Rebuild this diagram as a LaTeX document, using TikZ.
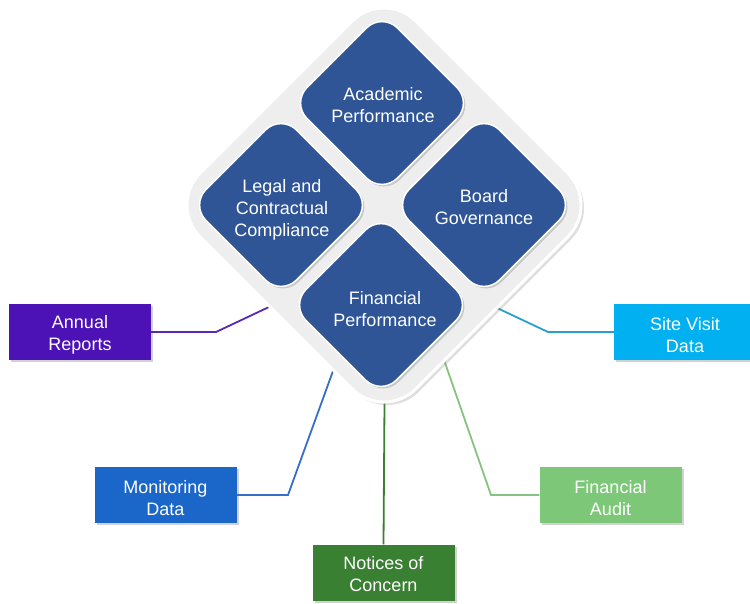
\documentclass[tikz,border=0pt]{standalone}
\usepackage{fontspec}
\setmainfont{Liberation Sans}
\usetikzlibrary{shadows}
\definecolor{dblue}{RGB}{47,85,151}
\definecolor{lgrey}{RGB}{238,238,238}
\definecolor{cpurple}{RGB}{76,18,181}
\definecolor{csky}{RGB}{0,176,240}
\definecolor{cblue}{RGB}{26,102,201}
\definecolor{cdgreen}{RGB}{58,128,50}
\definecolor{clgreen}{RGB}{125,200,120}
\definecolor{lpurple}{RGB}{88,40,185}
\definecolor{lsky}{RGB}{40,160,205}
\definecolor{lblue}{RGB}{55,110,200}
\definecolor{ldgreen}{RGB}{58,128,50}
\definecolor{llgreen}{RGB}{135,195,128}
\begin{document}
\begin{tikzpicture}[x=1pt,y=-1pt,
  outer/.style={rotate=45, minimum size=305pt, inner sep=0pt, rounded corners=45pt,
    fill=lgrey, draw=white, line width=3pt,
    drop shadow={shadow xshift=3pt, shadow yshift=-3pt, opacity=0.25}},
  tile/.style={rotate=45, minimum size=128pt, inner sep=0pt, rounded corners=22pt,
    fill=dblue, draw=white, line width=1.5pt,
    drop shadow={shadow xshift=2pt, shadow yshift=-2pt, opacity=0.35}},
  tiletext/.style={text=white, align=center, font=\fontsize{18}{22}\selectfont},
  box/.style={minimum width=142pt, minimum height=56pt, inner sep=0pt,
    drop shadow={shadow xshift=2pt, shadow yshift=-2pt, opacity=0.35}},
  link/.style={line width=1.8pt}]
\useasboundingbox (0,0) rectangle (750,603);
\fill[white] (0,0) rectangle (750,603);

% side boxes
\node[box, fill=cpurple] (annual) at (80,332) {};
\node[box, fill=csky] (site) at (685,332) {};
\node[box, fill=cblue] (monit) at (165.5,495) {};
\node[box, fill=clgreen] (audit) at (610.5,495) {};
\node[box, fill=cdgreen] (notices) at (383.5,572.5) {};
\node[tiletext] (annualtext) at (80,335) {Annual\\Reports};
\node[tiletext] (sitetext) at (685,335) {Site Visit\\Data};
\node[tiletext] (monittext) at (165.5,498) {Monitoring\\Data};
\node[tiletext] (audittext) at (610.5,498) {Financial\\Audit};
\node[tiletext] (noticestext) at (383.5,574.5) {Notices of\\Concern};

% connector points
\coordinate (jA) at (216,332);
\coordinate (eA) at (269,307);
\coordinate (jS) at (548,332);
\coordinate (eS) at (495,307);
\coordinate (jM) at (288,495);
\coordinate (eM) at (333,371);
\coordinate (jF) at (491,495);
\coordinate (eF) at (443,357);
\coordinate (eN) at (384.5,403);

\draw[link, lpurple] (annual.east) -- (jA) -- (eA);
\draw[link, lsky] (site.west) -- (jS) -- (eS);
\draw[link, lblue] (monit.east) -- (jM) -- (eM);
\draw[link, llgreen] (audit.west) -- (jF) -- (eF);
\draw[link, ldgreen] (notices.north) -- (eN);

% central diamond
\node[outer] (frame) at (384,205) {};
\node[tile] (acadshape) at (382,103) {};
\node[tile] (legalshape) at (281,205) {};
\node[tile] (boardshape) at (484,205) {};
\node[tile] (finshape) at (381,305) {};

\node[tiletext] (acad) at (383,105) {Academic\\Performance};
\node[tiletext] (legal) at (282,210) {Legal and\\Contractual\\Compliance};
\node[tiletext] (board) at (484,207) {Board\\Governance};
\node[tiletext] (fin) at (385,309) {Financial\\Performance};
\end{tikzpicture}
\end{document}
